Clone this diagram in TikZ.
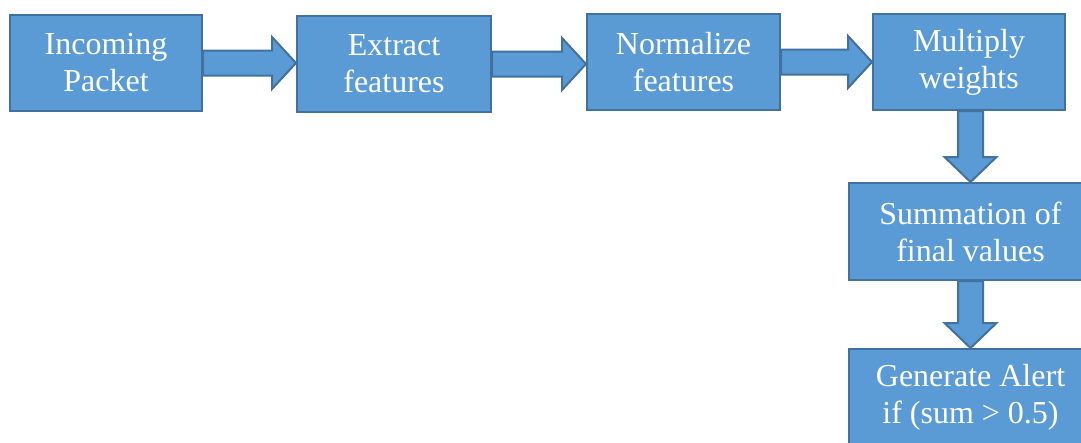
\documentclass[tikz,border=0pt]{standalone}
\usepackage{fontspec}
\setmainfont{Liberation Serif}
\usetikzlibrary{calc}
\definecolor{boxfill}{HTML}{5B9BD5}
\definecolor{boxline}{HTML}{41719C}
\tikzset{
  flowbox/.style={draw=boxline, fill=boxfill, line width=2pt, text=white,
    align=center, inner sep=0pt, minimum height=96pt,
    font=\fontsize{32}{37}\selectfont},
  blockarrow/.style={draw=boxline, fill=boxfill, line width=2pt, line join=miter}
}
\newcommand\hblockarrow[2]{%
  \path[blockarrow] let \p1=(#1.east), \p2=(#2.west) in
    (\x1,\y1+12.5pt) -- (\x2-24pt,\y1+12.5pt) -- (\x2-24pt,\y1+26pt) -- (\x2,\y1)
    -- (\x2-24pt,\y1-26pt) -- (\x2-24pt,\y1-12.5pt) -- (\x1,\y1-12.5pt) -- cycle;}
\newcommand\vblockarrow[2]{%
  \path[blockarrow] let \p1=(#1.south), \p2=(#2.north) in
    (\x2-12.5pt,\y1) -- (\x2-12.5pt,\y2+25pt) -- (\x2-26pt,\y2+25pt) -- (\x2,\y2)
    -- (\x2+26pt,\y2+25pt) -- (\x2+12.5pt,\y2+25pt) -- (\x2+12.5pt,\y1) -- cycle;}
\begin{document}
\begin{tikzpicture}[x=1pt,y=-1pt]
\useasboundingbox (0,0) rectangle (1081,442);
\clip (0,0) rectangle (1081,442);
\fill[white] (0,0) rectangle (1081,442);
\node[flowbox, minimum width=192pt] (b1) at (106,63) {Incoming\\Packet};
\node[flowbox, minimum width=194pt] (b2) at (394,64) {Extract\\features};
\node[flowbox, minimum width=193pt] (b3) at (683.5,62) {Normalize\\features};
\node[flowbox, minimum width=192pt] (b4) at (969,62) {Multiply\\weights};
\node[flowbox, minimum width=243pt, minimum height=97pt] (b5) at (970.5,231.5) {Summation of\\final values};
\node[flowbox, minimum width=243pt, minimum height=97pt] (b6) at (970.5,397.5) {Generate Alert\\if (sum \textgreater{} 0.5)};
\hblockarrow{b1}{b2}
\hblockarrow{b2}{b3}
\hblockarrow{b3}{b4}
\vblockarrow{b4}{b5}
\vblockarrow{b5}{b6}
\end{tikzpicture}
\end{document}
